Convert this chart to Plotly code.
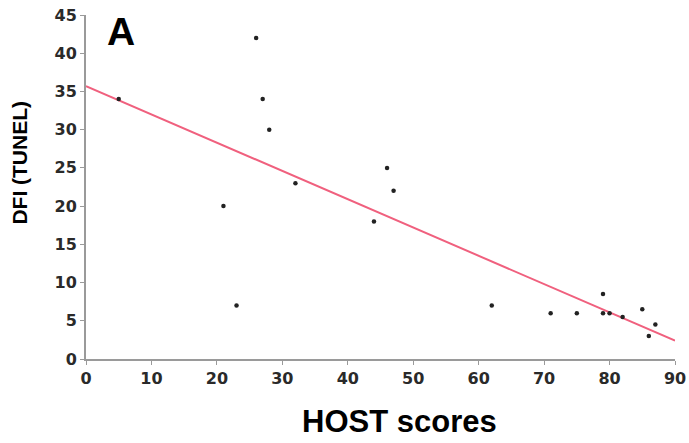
import plotly.graph_objects as go

host_scores = [5, 21, 23, 26, 27, 28, 32, 44, 46, 47, 62, 71, 75, 79, 79, 80, 82, 85, 86, 87]
dfi_tunel = [34, 20, 7, 42, 34, 30, 23, 18, 25, 22, 7, 6, 6, 8.5, 6, 6, 5.5, 6.5, 3, 4.5]
fit_x = [0, 90]
fit_y = [35.7, 2.4]
x_ticks = [0, 10, 20, 30, 40, 50, 60, 70, 80, 90]
y_ticks = [0, 5, 10, 15, 20, 25, 30, 35, 40, 45]

fig = go.Figure()
fig.add_trace(go.Scatter(x=fit_x, y=fit_y, mode="lines",
                         line=dict(color="#f0607e", width=2), showlegend=False,
                         cliponaxis=False))
fig.add_trace(go.Scatter(x=host_scores, y=dfi_tunel, mode="markers",
                         marker=dict(color="#222222", size=4.5), showlegend=False,
                         cliponaxis=False))

tick_font = dict(family="DejaVu Sans, Verdana, sans-serif", size=16, color="#2a2a2a")
title_family = "Liberation Sans, Arial, sans-serif"
fig.update_layout(
    width=689, height=443,
    margin=dict(l=86, r=14, t=15, b=84),
    paper_bgcolor="white", plot_bgcolor="white",
    xaxis=dict(range=[0, 90], tickvals=x_ticks, ticktext=[f"<b>{v}</b>" for v in x_ticks],
               automargin=False,
               showgrid=False, zeroline=False, showline=True, linecolor="#9a9a9a", linewidth=2,
               ticks="outside", ticklen=4, tickcolor="#9a9a9a", tickfont=tick_font),
    yaxis=dict(range=[0, 45], tickvals=y_ticks, ticktext=[f"<b>{v}</b>" for v in y_ticks],
               automargin=False,
               showgrid=False, zeroline=False, showline=True, linecolor="#9a9a9a", linewidth=2,
               ticks="outside", ticklen=4, tickcolor="#9a9a9a", tickfont=tick_font),
    annotations=[
        dict(text="<b>A</b>", x=0.059, y=0.951, xref="paper", yref="paper",
             xanchor="center", yanchor="middle", showarrow=False,
             font=dict(family=title_family, size=39, color="black")),
        dict(text="<b>HOST scores</b>", x=0.533, y=-0.183, xref="paper", yref="paper",
             xanchor="center", yanchor="middle", showarrow=False,
             font=dict(family=title_family, size=31, color="black")),
        dict(text="<b>DFI (TUNEL)</b>", x=-0.112, y=0.571, xref="paper", yref="paper",
             xanchor="center", yanchor="middle", showarrow=False, textangle=-90,
             font=dict(family=title_family, size=21, color="black")),
    ],
)

fig.write_html("out.html")
